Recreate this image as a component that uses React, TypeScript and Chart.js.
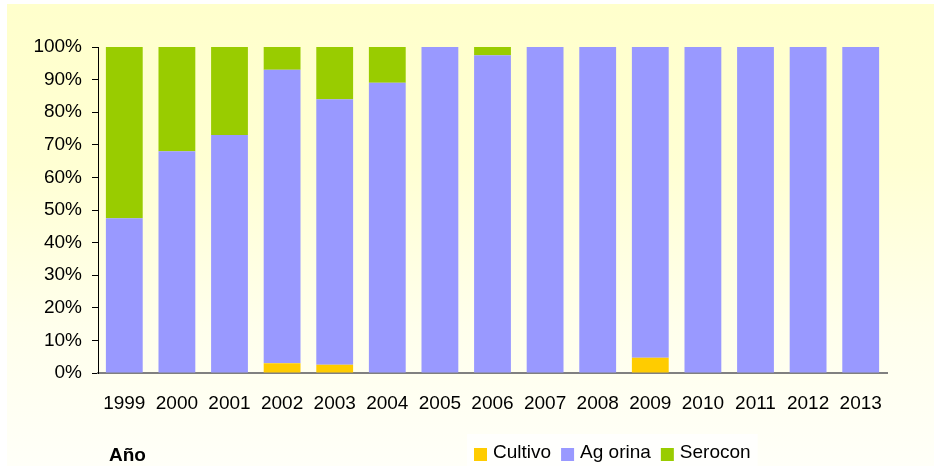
import React, { useEffect, useRef } from "react";
import { Chart, registerables } from "chart.js";

Chart.register(...registerables);

const years = ["1999", "2000", "2001", "2002", "2003", "2004", "2005", "2006", "2007", "2008", "2009", "2010", "2011", "2012", "2013"];
const cultivo = [0, 0, 0, 3, 2.5, 0, 0, 0, 0, 0, 4.7, 0, 0, 0, 0];
const agOrina = [47.5, 68, 73, 90, 81.5, 89, 100, 97.5, 100, 100, 95.3, 100, 100, 100, 100];
const serocon = [52.5, 32, 27, 7, 16, 11, 0, 2.5, 0, 0, 0, 0, 0, 0, 0];
const seriesNames = ["Cultivo", "Ag orina", "Serocon"];
const seriesColors = ["#FFCC00", "#9999FF", "#99CC00"];
const axisTitle = "Año";

const FONT = "'Liberation Sans', Arial, sans-serif";

const bgPlugin = {
  id: "bgPlugin",
  beforeDraw(chart: any) {
    const ctx = chart.ctx;
    const w = chart.width;
    const h = chart.height;
    ctx.save();
    ctx.fillStyle = "#ffffff";
    ctx.fillRect(0, 0, w, h);
    const g = ctx.createLinearGradient(0, 4, 0, h);
    g.addColorStop(0, "#FFFFCC");
    g.addColorStop(0.35, "#FFFFD3");
    g.addColorStop(0.7, "#FFFFEC");
    g.addColorStop(1, "#FFFFF8");
    ctx.fillStyle = g;
    ctx.fillRect(7, 4, w - 7, h - 4);
    ctx.restore();
  },
  afterDraw(chart: any) {
    const ctx = chart.ctx;
    ctx.save();
    // axis title
    ctx.font = "bold 19px " + FONT;
    ctx.fillStyle = "#000";
    ctx.textBaseline = "alphabetic";
    ctx.textAlign = "left";
    ctx.fillText(axisTitle, 109, 461);
    // legend
    ctx.font = "19px " + FONT;
    const ds = chart.data.datasets;
    let widths = ds.map((d: any) => ctx.measureText(d.label).width);
    let total = 0;
    widths.forEach((w: number) => (total += 13 + 6 + w));
    total += 10 * (ds.length - 1);
    const startX = 474;
    ctx.fillStyle = "#FFFFFD";
    ctx.fillRect(startX - 7, 434, total + 14, 32);
    let x = startX;
    ds.forEach((d: any, i: number) => {
      ctx.fillStyle = d.backgroundColor;
      ctx.fillRect(x, 448, 13, 13);
      ctx.fillStyle = "#000";
      ctx.fillText(d.label, x + 19, 458);
      x += 19 + widths[i] + 10;
    });
    ctx.restore();
  },
};

export default function App() {
  const ref = useRef<HTMLCanvasElement>(null);
  useEffect(() => {
    document.body.style.margin = "0";
    const chart = new Chart(ref.current!, {
      type: "bar",
      data: {
        labels: years,
        datasets: [
          { label: seriesNames[0], data: cultivo, backgroundColor: seriesColors[0] },
          { label: seriesNames[1], data: agOrina, backgroundColor: seriesColors[1] },
          { label: seriesNames[2], data: serocon, backgroundColor: seriesColors[2] },
        ],
      },
      options: {
        animation: false,
        responsive: false,
        maintainAspectRatio: false,
        layout: { padding: { top: 47, right: 47, left: 0, bottom: 0 } },
        datasets: { bar: { categoryPercentage: 1, barPercentage: 0.7 } },
        plugins: { legend: { display: false }, tooltip: { enabled: false } },
        scales: {
          x: {
            stacked: true,
            grid: { display: false, drawTicks: false },
            border: { color: "#808080", width: 2 },
            ticks: { color: "#000", font: { family: FONT, size: 19 }, padding: 19, maxRotation: 0, autoSkip: false },
            afterFit: (s: any) => { s.height = 93; },
          },
          y: {
            stacked: true,
            min: 0,
            max: 100,
            grid: { drawOnChartArea: false, drawTicks: true, tickLength: 6, color: "#000" },
            border: { color: "#000", width: 1 },
            ticks: {
              stepSize: 10,
              color: "#000",
              padding: 10,
              font: { family: FONT, size: 19 },
              callback: (v: any) => v + "%",
            },
            afterFit: (s: any) => { s.width = 98; },
          },
        },
      },
      plugins: [bgPlugin],
    });
    return () => chart.destroy();
  }, []);
  return <canvas ref={ref} width={934} height={466} style={{ display: "block" }} />;
}
